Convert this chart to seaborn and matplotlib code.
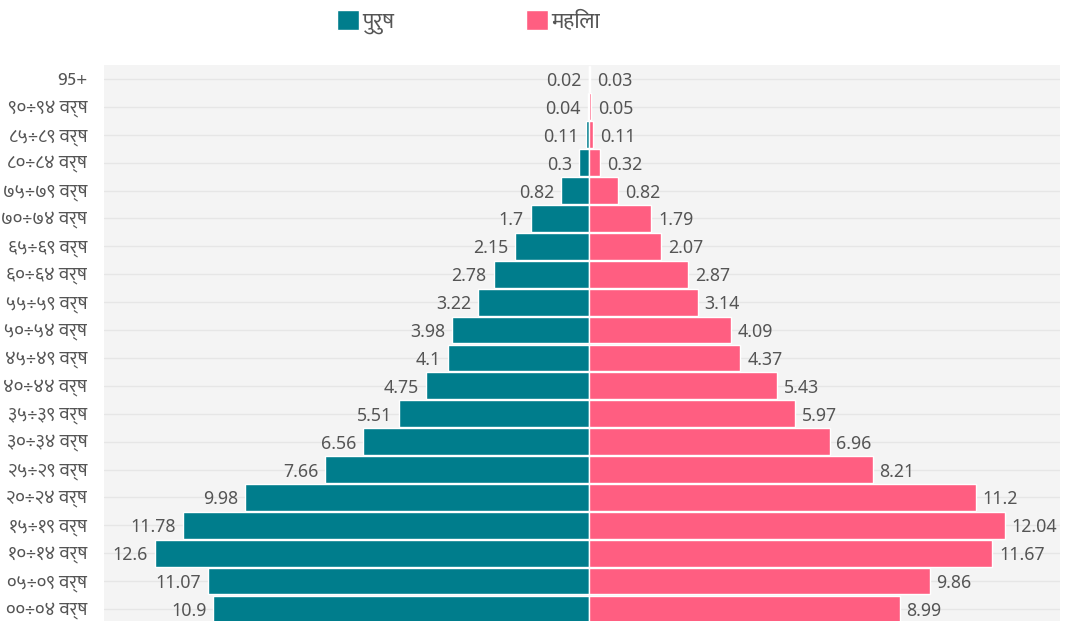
import pandas as pd
import matplotlib
matplotlib.use("Agg")
import matplotlib.pyplot as plt
from matplotlib.patches import Patch
import seaborn as sns

# age groups, top to bottom
ages = ['95+', '९०÷९४ वर्ष', '८५÷८९ वर्ष', '८०÷८४ वर्ष', '७५÷७९ वर्ष',
        '७०÷७४ वर्ष', '६५÷६९ वर्ष', '६०÷६४ वर्ष', '५५÷५९ वर्ष', '५०÷५४ वर्ष',
        '४५÷४९ वर्ष', '४०÷४४ वर्ष', '३५÷३९ वर्ष', '३०÷३४ वर्ष', '२५÷२९ वर्ष',
        '२०÷२४ वर्ष', '१५÷१९ वर्ष', '१०÷१४ वर्ष', '०५÷०९ वर्ष', '००÷०४ वर्ष']
male = [0.02, 0.04, 0.11, 0.3, 0.82, 1.7, 2.15, 2.78, 3.22, 3.98,
        4.1, 4.75, 5.51, 6.56, 7.66, 9.98, 11.78, 12.6, 11.07, 10.9]
female = [0.03, 0.05, 0.11, 0.32, 0.82, 1.79, 2.07, 2.87, 3.14, 4.09,
          4.37, 5.43, 5.97, 6.96, 8.21, 11.2, 12.04, 11.67, 9.86, 8.99]
legend_labels = ['पुरुष', 'महिला']

teal = '#007d8c'
pink = '#ff5e81'

sns.set_style("white")
plt.rcParams['font.family'] = ['Mukta', 'Noto Sans Devanagari UI', 'DejaVu Sans']

df = pd.DataFrame({'age': ages, 'male': male, 'female': female})
df['male_neg'] = -df['male']

fig = plt.figure(figsize=(10.65, 6.21), dpi=100)
ax = fig.add_axes([104 / 1065, 0, (1060 - 104) / 1065, 1 - 65 / 621])
ax.set_facecolor('#f4f4f4')

sns.barplot(data=df, x='male_neg', y='age', color=teal, width=0.96,
            edgecolor='white', linewidth=1, saturation=1, ax=ax)
sns.barplot(data=df, x='female', y='age', color=pink, width=0.96,
            edgecolor='white', linewidth=1, saturation=1, ax=ax)

num_font = dict(fontsize=12.8, color='#555555', family=['Noto Sans', 'DejaVu Sans'])
texts = ax.bar_label(ax.containers[0], labels=[f'{v:g}' for v in male], padding=5, **num_font)
texts += ax.bar_label(ax.containers[1], labels=[f'{v:g}' for v in female], padding=5, **num_font)
for t in texts:
    t.set_va('center_baseline')

ax.set_xlim(-14.07, 13.64)
ax.set_ylim(19.43, -0.5)
ax.set_xlabel('')
ax.set_ylabel('')
ax.set_xticks([])
ax.grid(axis='y', color='#e6e6e6', linewidth=1)
ax.set_axisbelow(True)
ax.tick_params(axis='y', length=9, color='#e3e3e3', pad=3,
               labelsize=13.5, labelcolor='#555555')
for s in ax.spines.values():
    s.set_visible(False)

handles = [Patch(facecolor=teal), Patch(facecolor=pink)]
fig.legend(handles, legend_labels, loc='center', bbox_to_anchor=(0.44, 0.965),
           ncol=2, frameon=False, fontsize=16, handlelength=1.0, handleheight=1.0,
           handletextpad=0.15, columnspacing=5.9, labelcolor='#555555')

fig.savefig('out.png', dpi=100)
